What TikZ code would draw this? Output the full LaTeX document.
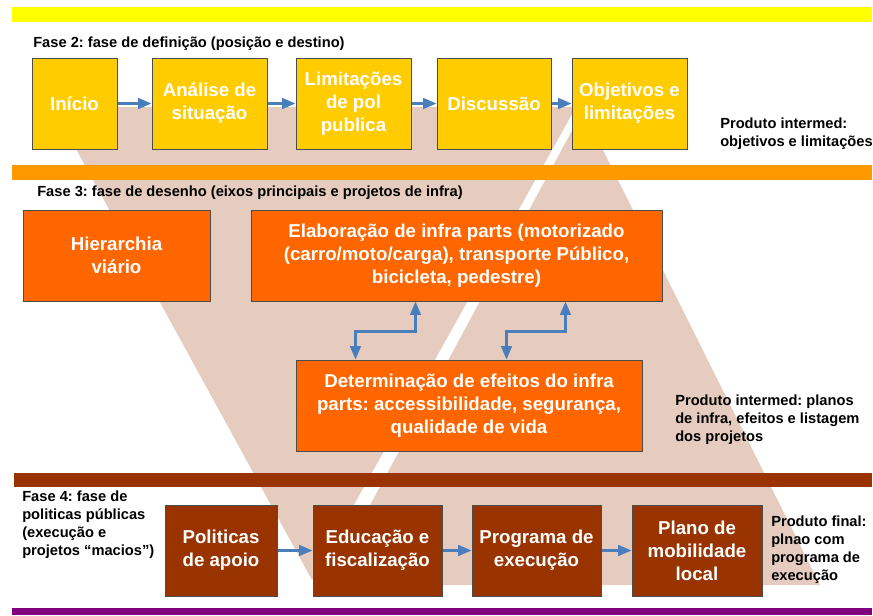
\documentclass[tikz,border=0pt]{standalone}
\usepackage{fontspec}
\setmainfont{Liberation Sans}
\usetikzlibrary{arrows.meta,calc}
\frenchspacing

\definecolor{faixabege}{RGB}{229,204,191}
\definecolor{barraamarela}{HTML}{FFFF00}
\definecolor{barralaranja}{HTML}{FF9900}
\definecolor{barramarrom}{HTML}{993300}
\definecolor{barraroxa}{HTML}{800080}
\definecolor{caixaamarela}{HTML}{FFCC00}
\definecolor{caixalaranja}{HTML}{FF6600}
\definecolor{caixamarrom}{HTML}{993300}
\definecolor{setaazul}{HTML}{4A7EBB}

\newcommand{\pxu}{0.75pt}

\tikzset{
	caixa/.style={draw=black!70, line width=0.75pt, text=white, inner sep=0pt, align=center,
		font=\bfseries\fontsize{14}{17.25}\selectfont, minimum height=91*\pxu},
	fase2/.style={caixa, fill=caixaamarela},
	fase3/.style={caixa, fill=caixalaranja},
	fase4/.style={caixa, fill=caixamarrom},
	rotulo/.style={anchor=west, inner sep=0pt, align=left, font=\bfseries\fontsize{11}{13.5}\selectfont},
	seta/.style={draw=setaazul, line width=1.7pt, -{Triangle[length=10pt,width=8pt]}},
	setadupla/.style={seta, {Triangle[length=10pt,width=8pt]}-{Triangle[length=10pt,width=8pt]}}
}

\begin{document}
\begin{tikzpicture}[x=0.75pt,y=-0.75pt]
		%%%%% START %%%%%
		\useasboundingbox (0,0) rectangle (873,615);
		
		% faixas de fundo
		\fill[faixabege] (53,107) -- (576,107) -- (312,580) -- cycle;
		\fill[faixabege] (583,110) -- (820,585) -- (327,585) -- cycle;
		
		% barras
		\fill[barraamarela] (12,7) rectangle (872,22);
		\fill[barralaranja] (12,165) rectangle (872,180);
		\fill[barramarrom] (14,473) rectangle (872,487);
		\fill[barraroxa] (12,608) rectangle (872,615);
		
		% fase 2
		\node[rotulo] (t2) at (33,44) {Fase 2: fase de definição (posição e destino)};
		\node[fase2, minimum width=85*\pxu] (inicio) at (74.5,103.5) {Início};
		\node[fase2, minimum width=115*\pxu] (analise) at (209.5,103.5) {Análise de\\situação};
		\node[fase2, minimum width=115*\pxu] (limitacoes) at (353.5,103.5) {Limitações\\de pol\\publica};
		\node[fase2, minimum width=114*\pxu] (discussao) at (494,103.5) {Discussão};
		\node[fase2, minimum width=115*\pxu] (objetivos) at (629.5,103.5) {Objetivos e\\limitações};
		\node[rotulo] (p2) at (720,134) {Produto intermed:\\objetivos e limitações};
		
		\draw[seta] (inicio) -- (analise);
		\draw[seta] (analise) -- (limitacoes);
		\draw[seta] (limitacoes) -- (discussao);
		\draw[seta] (discussao) -- (objetivos);
		
		% fase 3
		\node[rotulo] (t3) at (37,193) {Fase 3: fase de desenho (eixos principais e projetos de infra)};
		\node[fase3, minimum width=187*\pxu] (hierarchia) at (116.5,255.5) {Hierarchia\\viário};
		\node[fase3, minimum width=411*\pxu] (elab) at (456.5,255.5) {Elaboração de infra parts (motorizado\\(carro/moto/carga), transporte Público,\\bicicleta, pedestre)};
		\node[fase3, minimum width=346*\pxu] (determ) at (469,405.5) {Determinação de efeitos do infra\\parts: accessibilidade, segurança,\\qualidade de vida};
		\node[rotulo] (p3) at (675,419.5) {Produto intermed: planos\\de infra, efeitos e listagem\\dos projetos};
		
		\draw[setadupla] ($(determ.north west)+(60,0)$) -- ++(0,-28) -| ($(elab.south west)+(165,0)$);
		\draw[setadupla] ($(determ.north west)+(211,0)$) -- ++(0,-28) -| ($(elab.south west)+(315,0)$);
		
		% fase 4
		\node[rotulo] (t4) at (22,524.5) {Fase 4: fase de\\politicas públicas\\(execução e\\projetos “macios”)};
		\node[fase4, minimum width=112*\pxu] (politicas) at (221,550.5) {Politicas\\de apoio};
		\node[fase4, minimum width=129*\pxu] (educacao) at (377.5,550.5) {Educação e\\fiscalização};
		\node[fase4, minimum width=129*\pxu] (programa) at (536.5,550.5) {Programa de\\execução};
		\node[fase4, minimum width=130*\pxu] (plano) at (697,550.5) {Plano de\\mobilidade\\local};
		\node[rotulo] (p4) at (771,550) {Produto final:\\plnao com\\programa de\\execução};
		
		\draw[seta] (politicas) -- (educacao);
		\draw[seta] (educacao) -- (programa);
		\draw[seta] (programa) -- (plano);
		
		%%%%% END %%%%%
	\end{tikzpicture}
\end{document}
